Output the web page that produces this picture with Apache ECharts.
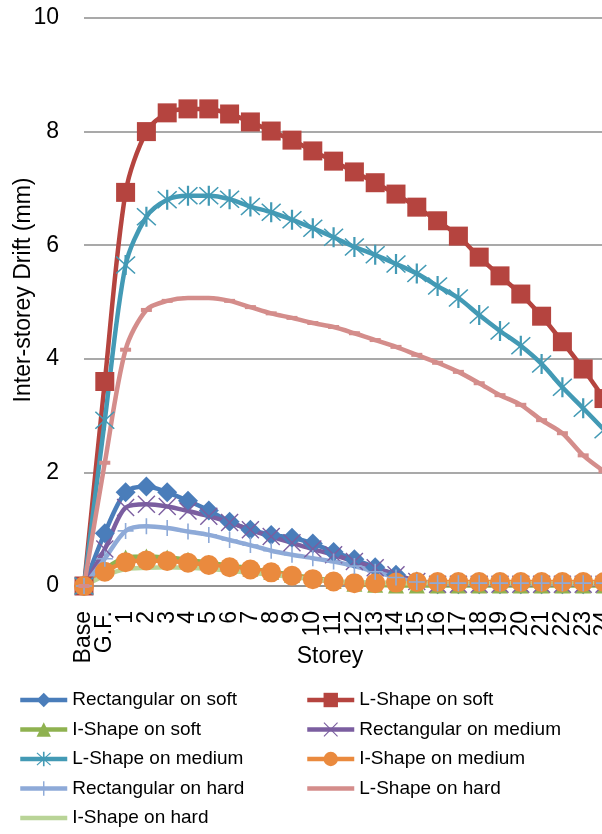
<!DOCTYPE html>
<html>
<head>
<meta charset="utf-8">
<script src="https://cdn.jsdelivr.net/npm/echarts@6/dist/echarts.min.js"></script>
<style>
  html, body { margin: 0; padding: 0; background: #fff; overflow: hidden; }
  #main { width: 660px; height: 834px; }
</style>
</head>
<body>
<div id="main"></div>
<script>
// storeys (x axis)
var storeys = ['Base', 'G.F.', '1', '2', '3', '4', '5', '6', '7', '8', '9', '10', '11', '12',
    '13', '14', '15', '16', '17', '18', '19', '20', '21', '22', '23', '24'];
var yTicks = [0, 2, 4, 6, 8, 10];

// drift values (mm)
var rectSoft  = [0, 0.93, 1.65, 1.75, 1.65, 1.5, 1.33, 1.13, 0.99, 0.9, 0.85, 0.75, 0.6, 0.47, 0.33, 0.2, 0.08, 0.03, 0.03, 0.03, 0.03, 0.03, 0.03, 0.03, 0.03, 0.03];
var lSoft     = [0, 3.6, 6.93, 8.0, 8.33, 8.4, 8.4, 8.31, 8.17, 8.01, 7.85, 7.66, 7.48, 7.29, 7.1, 6.9, 6.67, 6.43, 6.16, 5.79, 5.46, 5.14, 4.75, 4.3, 3.82, 3.3];
var iSoft     = [0, 0.3, 0.5, 0.52, 0.5, 0.46, 0.41, 0.36, 0.31, 0.25, 0.2, 0.14, 0.09, 0.04, 0.02, 0.01, 0.01, 0.01, 0.01, 0.01, 0.01, 0.01, 0.01, 0.01, 0.01, 0.01];
var rectMed   = [0, 0.65, 1.38, 1.44, 1.4, 1.32, 1.23, 1.12, 0.99, 0.87, 0.76, 0.65, 0.55, 0.43, 0.32, 0.2, 0.08, 0.03, 0.03, 0.03, 0.03, 0.03, 0.03, 0.03, 0.03, 0.03];
var lMed      = [0, 2.92, 5.65, 6.5, 6.8, 6.87, 6.87, 6.81, 6.68, 6.58, 6.45, 6.3, 6.14, 5.97, 5.83, 5.67, 5.5, 5.28, 5.07, 4.77, 4.49, 4.23, 3.91, 3.5, 3.13, 2.75];
var iMed      = [0, 0.25, 0.42, 0.45, 0.44, 0.41, 0.37, 0.33, 0.29, 0.24, 0.18, 0.12, 0.08, 0.05, 0.05, 0.06, 0.07, 0.07, 0.07, 0.07, 0.07, 0.07, 0.07, 0.07, 0.07, 0.07];
var rectHard  = [0, 0.48, 0.97, 1.05, 1.02, 0.96, 0.9, 0.81, 0.72, 0.62, 0.55, 0.49, 0.43, 0.35, 0.25, 0.15, 0.07, 0.05, 0.05, 0.05, 0.05, 0.05, 0.05, 0.05, 0.05, 0.05];
var lHard     = [0, 2.17, 4.16, 4.86, 5.02, 5.07, 5.07, 5.02, 4.91, 4.8, 4.72, 4.63, 4.56, 4.45, 4.33, 4.21, 4.07, 3.93, 3.77, 3.57, 3.36, 3.19, 2.92, 2.69, 2.3, 2.02];
var iHard     = [0, 0.18, 0.3, 0.32, 0.33, 0.32, 0.3, 0.27, 0.23, 0.2, 0.16, 0.12, 0.09, 0.07, 0.06, 0.05, 0.05, 0.05, 0.05, 0.05, 0.05, 0.05, 0.05, 0.05, 0.05, 0.05];

var FONT = 'Liberation Sans';

// excel-like marker shapes
var xMark = 'path://M1,2 L2,1 L19,18 L18,19 Z M18,1 L19,2 L2,19 L1,18 Z';
var starMark = 'path://M1,2 L2,1 L19,18 L18,19 Z M18,1 L19,2 L2,19 L1,18 Z M9,0 L11,0 L11,20 L9,20 Z';
var plusMark = 'path://M9,0 L11,0 L11,20 L9,20 Z M0,9 L20,9 L20,11 L0,11 Z';

function line(name, data, color, symbol, size) {
    return {
        name: name,
        type: 'line',
        data: data,
        smooth: 0.3,
        symbol: symbol,
        symbolSize: size,
        showAllSymbol: true,
        lineStyle: { color: color, width: 4.5 },
        itemStyle: { color: color, borderWidth: 0 },
        emphasis: { disabled: true }
    };
}

var legendBase = {
    orient: 'vertical',
    top: 690,
    padding: 0,
    itemWidth: 47,
    itemHeight: 18,
    itemGap: 9.5,
    lineStyle: { width: 4.5 },
    textStyle: { fontFamily: FONT, fontSize: 19, color: '#000', lineHeight: 20 }
};

var myChart = echarts.init(document.getElementById('main'));
var option = {
    animation: false,
    backgroundColor: '#fff',
    textStyle: { fontFamily: FONT },
    grid: { left: 84, right: 56, top: 18, bottom: 248, outerBoundsMode: 'none', containLabel: false },
    legend: [
        Object.assign({}, legendBase, {
            left: 18,
            data: ['Rectangular on soft', 'I-Shape on soft', 'L-Shape on medium', 'Rectangular on hard',
                { name: 'I-Shape on hard', itemStyle: { opacity: 0 } }]
        }),
        Object.assign({}, legendBase, {
            left: 305,
            data: ['L-Shape on soft', 'Rectangular on medium', 'I-Shape on medium',
                { name: 'L-Shape on hard', itemStyle: { opacity: 0 } }]
        })
    ],
    xAxis: {
        type: 'category',
        data: storeys,
        boundaryGap: false,
        name: 'Storey',
        nameLocation: 'middle',
        nameGap: 59,
        nameMoveOverlap: false,
        nameTextStyle: { fontFamily: FONT, fontSize: 23, color: '#000', padding: [0, 28, 0, 0] },
        axisLine: { lineStyle: { color: '#8c8c8c', width: 1.5 } },
        axisTick: { show: false },
        axisLabel: { rotate: 90, interval: 0, margin: 25, fontFamily: FONT, fontSize: 23, color: '#000' }
    },
    yAxis: {
        type: 'value',
        min: yTicks[0],
        max: yTicks[yTicks.length - 1],
        interval: 2,
        name: 'Inter-storey Drift (mm)',
        nameLocation: 'middle',
        nameGap: 49,
        nameMoveOverlap: false,
        nameTextStyle: { fontFamily: FONT, fontSize: 23, color: '#000', padding: [0, 0, 0, 24] },
        axisLine: { show: false },
        axisTick: { show: false },
        axisLabel: { margin: 25, fontFamily: FONT, fontSize: 23, color: '#000' },
        splitLine: { lineStyle: { color: '#8c8c8c', width: 1.5 } }
    },
    series: [
        line('Rectangular on soft', rectSoft, '#4a7dba', 'diamond', 20),
        line('L-Shape on soft', lSoft, '#b5443f', 'rect', 19),
        line('I-Shape on soft', iSoft, '#8fb250', 'triangle', 16),
        line('Rectangular on medium', rectMed, '#7b5ea0', xMark, 18),
        line('L-Shape on medium', lMed, '#439ab5', starMark, 20),
        line('I-Shape on medium', iMed, '#ea8a3e', 'circle', 20),
        line('Rectangular on hard', rectHard, '#8eaad8', plusMark, 16),
        line('L-Shape on hard', lHard, '#d48d8b', 'rect', [11, 4]),
        line('I-Shape on hard', iHard, '#b9d497', 'none', 0)
    ]
};
myChart.setOption(option);
</script>
</body>
</html>
